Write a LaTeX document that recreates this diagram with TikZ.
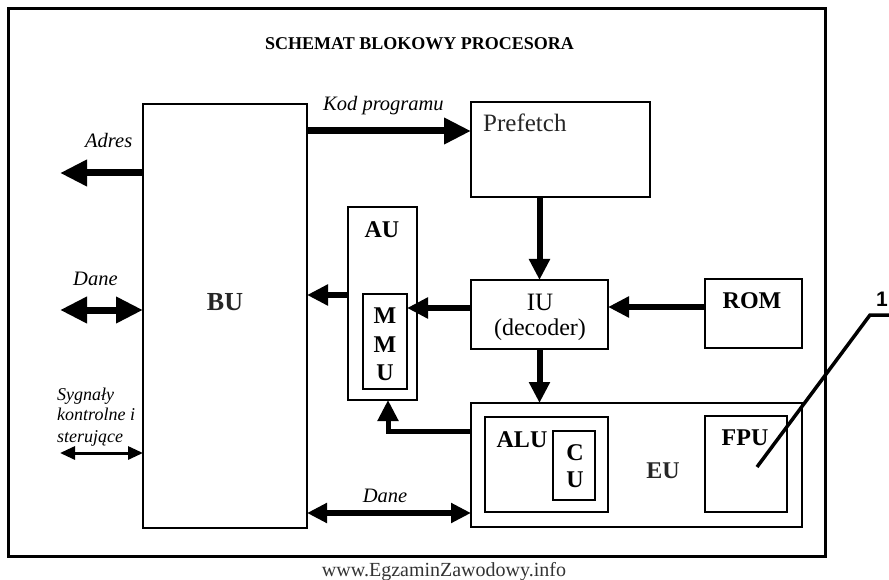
\documentclass[tikz,border=0pt]{standalone}
\usepackage{fontspec}
\setmainfont{Liberation Serif}
\newfontfamily\sansfnt{Liberation Sans}
\usetikzlibrary{arrows.meta}
\tikzset{
 box/.style={draw, line width=1.8pt, inner sep=0pt, outer sep=0pt},
 lbl/.style={font=\fontsize{25}{28}\selectfont, inner sep=0pt, anchor=base},
 blbl/.style={font=\fontsize{24}{28}\selectfont\bfseries, inner sep=0pt, anchor=base},
 ital/.style={font=\fontsize{20.5}{24}\selectfont\itshape, inner sep=0pt, anchor=base west},
 sital/.style={font=\fontsize{18}{20}\selectfont\itshape, inner sep=0pt, anchor=base west},
 fat/.style={line width=7pt, -{Triangle[length=27pt,width=25pt]}},
 fatd/.style={line width=7pt, {Triangle[length=27pt,width=25pt]}-{Triangle[length=27pt,width=25pt]}},
 mid/.style={line width=6pt, -{Triangle[length=21pt,width=20pt]}},
 midd/.style={line width=5.5pt, {Triangle[length=20pt,width=19pt]}-{Triangle[length=20pt,width=19pt]}},
 thind/.style={line width=3pt, {Triangle[length=15pt,width=13pt]}-{Triangle[length=15pt,width=13pt]}},
}
\begin{document}
\begin{tikzpicture}[x=1pt,y=-1pt]
\useasboundingbox (0,0) rectangle (889,580);
% frame
\node[box, line width=3pt, minimum width=817, minimum height=547] (frame) at (416.5,282.5) {};
\node[font=\fontsize{18}{20}\selectfont\bfseries, inner sep=0pt, anchor=base] (title) at (419.5,50) {SCHEMAT BLOKOWY PROCESORA};
% boxes
\node[box, line width=1.3pt, minimum width=164, minimum height=424] (bu) at (225,316) {};
\node[box, minimum width=179, minimum height=95] (pf) at (560.5,149.5) {};
\node[box, minimum width=137, minimum height=69] (iu) at (539.5,314.5) {};
\node[box, minimum width=97, minimum height=69] (rom) at (753.5,313.5) {};
\node[box, minimum width=69, minimum height=193] (au) at (382.5,303.5) {};
\node[box, minimum width=44, minimum height=95] (mmu) at (385,341.5) {};
\node[box, minimum width=331, minimum height=124] (eu) at (636.5,465) {};
\node[box, minimum width=123, minimum height=95] (alu) at (546.5,464.5) {};
\node[box, minimum width=42, minimum height=69] (cu) at (574,465.5) {};
\node[box, minimum width=82, minimum height=96] (fpu) at (746,464) {};
% box texts
\node[blbl, font=\fontsize{26}{30}\selectfont\bfseries, text=black!85] (tbu) at (225,310) {BU};
\node[lbl, anchor=base west, text=black!85] (tpf) at (483,132) {Prefetch};
\node[lbl] (tiu) at (540,310) {IU};
\node[lbl, font=\fontsize{24}{28}\selectfont] (tdec) at (540,335) {(decoder)};
\node[blbl] (trom) at (752,308) {ROM};
\node[blbl] (tau) at (382,237) {AU};
\node[blbl] (tm1) at (385,323) {M};
\node[blbl] (tm2) at (385,352) {M};
\node[blbl] (tm3) at (385,380) {U};
\node[blbl] (talu) at (522,447) {ALU};
\node[blbl] (tc) at (575,460) {C};
\node[blbl] (tu) at (575,487) {U};
\node[blbl, text=black!85] (teu) at (663,478) {EU};
\node[blbl] (tfpu) at (745,445) {FPU};
% labels
\node[ital] (lkod) at (323,111) {Kod programu};
\node[ital] (ladr) at (85,148) {Adres};
\node[ital] (ldane) at (73,285) {Dane};
\node[ital, anchor=base] (ldane2) at (385,502) {Dane};
\node[sital] (ls1) at (57,400) {Sygnały};
\node[sital] (ls2) at (57,420) {kontrolne i};
\node[sital] (ls3) at (57,442) {sterujące};
% arrows
\draw[fat] (bu.east |- 0,131) -- (pf.west |- 0,131);
\coordinate (adr) at (60,173);
\draw[fat] (bu.west |- adr) -- (adr);
\coordinate (dl) at (60,310);
\draw[fatd] (dl) -- (bu.west |- dl);
\coordinate (sg) at (60,453);
\draw[thind] (sg) -- (bu.west |- sg);
\draw[mid] (au.west |- 0,295) -- (bu.east |- 0,295);
\draw[mid] (iu.west |- 0,308) -- (mmu.east |- 0,308);
\draw[mid] (rom.west |- 0,307) -- (iu.east |- 0,307);
\draw[mid] (iu.north |- pf.south) -- (iu.north);
\draw[mid] (iu.south) -- (iu.south |- eu.north);
\draw[mid, line width=5pt] (eu.west |- 0,431) -| ([xshift=5.5pt]au.south);
\draw[midd] (bu.east |- 0,513) -- (eu.west |- 0,513);
% leader 1
\coordinate (l1) at (757,467);
\coordinate (l2) at (870,315);
\coordinate (l3) at (889,315);
\draw[line width=3.5pt] (l1) -- (l2) -- (l3);
\node[font=\fontsize{21}{22}\selectfont\sansfnt\bfseries, inner sep=0pt, anchor=base] (one) at (882,306) {1};
% watermark
\node[font=\fontsize{20}{22}\selectfont, inner sep=0pt, anchor=base, text=black!80] (wm) at (444,576) {www.EgzaminZawodowy.info};
\end{tikzpicture}
\end{document}
